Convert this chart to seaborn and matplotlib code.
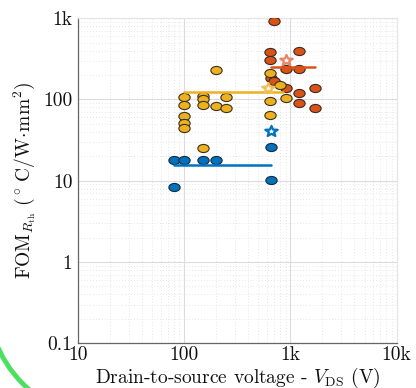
import numpy as np
import pandas as pd
import matplotlib
matplotlib.use("Agg")
import matplotlib.pyplot as plt
import seaborn as sns
from matplotlib.path import Path
from matplotlib.transforms import Affine2D
from matplotlib.patches import Arc
from matplotlib.ticker import FixedLocator, FixedFormatter, NullFormatter, LogLocator

# ---------------- data ----------------
blue_x = [80, 100, 150, 200, 80, 650, 650]
blue_y = [17.8, 17.8, 18.0, 17.8, 8.4, 25.8, 10.1]
blue_star_x = [650]
blue_star_y = [41]
blue_line_x = [80, 650]
blue_line_y = [15.5, 15.5]

yellow_x = [100, 100, 100, 100, 100, 150, 150, 150, 150, 200, 200, 250, 250,
            640, 640, 640, 795, 905]
yellow_y = [107, 86, 63, 51, 45, 110, 100, 86, 25, 233, 84, 107, 78,
            213, 96, 64, 150, 105]
yellow_star_x = [612]
yellow_star_y = [139]
yellow_line_x = [100, 860]
yellow_line_y = [122, 122]

orange_x = [700, 645, 645, 1200, 910, 1200, 660, 700, 910, 1200, 1690, 1200, 1690]
orange_y = [918, 380, 303, 390, 234, 234, 185, 168, 139, 121, 139, 91, 79]
orange_star_x = [910]
orange_star_y = [303]
orange_line_x = [660, 1700]
orange_line_y = [248, 248]

x_ticks = [10, 100, 1000, 10000]
x_ticklabels = ["10", "100", "1k", "10k"]
y_ticks = [0.1, 1, 10, 100, 1000]
y_ticklabels = ["0.1", "1", "10", "100", "1k"]

BLUE = "#0072BD"
YELLOW = "#EDB120"
ORANGE = "#D95319"

# ---------------- style ----------------
sns.set_style("white")
plt.rcParams["font.family"] = ["cmr10", "DejaVu Serif"]
plt.rcParams["mathtext.fontset"] = "cm"
plt.rcParams["axes.unicode_minus"] = False
plt.rcParams["axes.formatter.use_mathtext"] = True

fig = plt.figure(figsize=(4.16, 3.88), dpi=100)
ax = fig.add_axes([0.1875, 0.1152, 0.766, 0.838])

ellipse = Path.unit_circle().transformed(Affine2D().scale(1.0, 0.72))
star = Path.unit_regular_star(5, 0.42).transformed(Affine2D().scale(1.0, 0.85))

df_o = pd.DataFrame({"x": orange_x, "y": orange_y})
df_y = pd.DataFrame({"x": yellow_x, "y": yellow_y})
df_b = pd.DataFrame({"x": blue_x, "y": blue_y})

sns.scatterplot(data=df_o, x="x", y="y", ax=ax, marker=ellipse, s=66,
                color=ORANGE, edgecolor="#3a2a20", linewidth=0.8, zorder=3)
sns.scatterplot(data=df_y, x="x", y="y", ax=ax, marker=ellipse, s=66,
                color=YELLOW, edgecolor="#3a3020", linewidth=0.8, zorder=4)
sns.scatterplot(data=df_b, x="x", y="y", ax=ax, marker=ellipse, s=66,
                color=BLUE, edgecolor="#1a2a3a", linewidth=0.8, zorder=4)

for lx, ly, c in [(blue_line_x, blue_line_y, BLUE),
                  (yellow_line_x, yellow_line_y, YELLOW),
                  (orange_line_x, orange_line_y, ORANGE)]:
    sns.lineplot(x=lx, y=ly, ax=ax, color=c, linewidth=1.8, zorder=5)

for sx, sy, c in [(blue_star_x, blue_star_y, BLUE),
                  (yellow_star_x, yellow_star_y, "#F0C050"),
                  (orange_star_x, orange_star_y, "#E8866A")]:
    sns.scatterplot(x=sx, y=sy, ax=ax, marker=star, s=80,
                    facecolor="white", edgecolor=c, linewidth=1.6, zorder=6)

ax.set_xscale("log")
ax.set_yscale("log")
ax.set_xlim(10, 10000)
ax.set_ylim(0.1, 1000)

ax.xaxis.set_major_locator(FixedLocator(x_ticks))
ax.xaxis.set_major_formatter(FixedFormatter(x_ticklabels))
ax.yaxis.set_major_locator(FixedLocator(y_ticks))
ax.yaxis.set_major_formatter(FixedFormatter(y_ticklabels))
ax.xaxis.set_minor_locator(LogLocator(base=10, subs=np.arange(2, 10), numticks=20))
ax.yaxis.set_minor_locator(LogLocator(base=10, subs=np.arange(2, 10), numticks=20))
ax.xaxis.set_minor_formatter(NullFormatter())
ax.yaxis.set_minor_formatter(NullFormatter())

ax.grid(True, which="major", color="#dcdcdc", linewidth=0.8, linestyle="-", zorder=0)
ax.grid(True, which="minor", color="#dedede", linewidth=0.6, linestyle=(0, (1, 2.5)), zorder=0)
ax.set_axisbelow(True)

ax.tick_params(axis="both", which="major", direction="in", length=5, width=0.8,
               color="#555555", labelsize=14, labelcolor="#111111", pad=4,
               top=False, right=False)
ax.tick_params(axis="x", which="major", pad=2)
ax.tick_params(axis="both", which="minor", direction="in", length=3, width=0.6,
               color="#777777", top=False, right=False)

for side in ["left", "bottom"]:
    ax.spines[side].set_color("#666666")
    ax.spines[side].set_linewidth(0.9)
for side in ["top", "right"]:
    ax.spines[side].set_color("#e6e6e6")
    ax.spines[side].set_linewidth(0.9)

ax.set_xlabel(r"Drain-to-source voltage - $V_\mathrm{DS}$ (V)", fontsize=14,
              color="#111111", labelpad=1)
ax.set_ylabel(r"$\mathrm{FOM}_{R_\mathrm{th}}\ (^\circ\,\mathrm{C/W}\!\cdot\!\mathrm{mm}^2)$",
              fontsize=14, color="#111111", labelpad=4)

# green decorative arc at lower left
arc = Arc((106, 388 - 300), 236, 236, theta1=200, theta2=250,
          transform=None, color="#4CE060", linewidth=3.5, clip_on=False)
fig.patches.append(arc)
arc.set_figure(fig)

fig.savefig("out.png", dpi=100, facecolor="white")
